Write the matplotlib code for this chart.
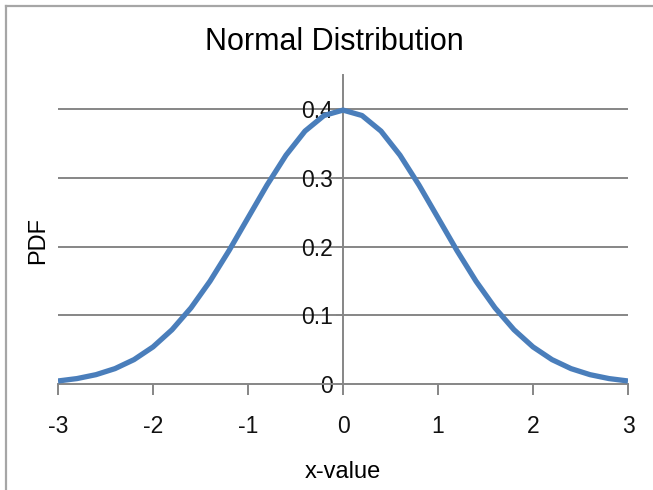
import matplotlib.pyplot as plt
from matplotlib.lines import Line2D

# values (standard normal pdf, step 0.2)
x_vals = [-3.0, -2.8, -2.6, -2.4, -2.2, -2.0, -1.8, -1.6, -1.4, -1.2, -1.0,
          -0.8, -0.6, -0.4, -0.2, 0.0, 0.2, 0.4, 0.6, 0.8, 1.0,
          1.2, 1.4, 1.6, 1.8, 2.0, 2.2, 2.4, 2.6, 2.8, 3.0]
pdf_vals = [0.0044, 0.0079, 0.0136, 0.0224, 0.0355, 0.0540, 0.0790, 0.1109, 0.1497, 0.1942, 0.2420,
            0.2897, 0.3332, 0.3683, 0.3910, 0.3989, 0.3910, 0.3683, 0.3332, 0.2897, 0.2420,
            0.1942, 0.1497, 0.1109, 0.0790, 0.0540, 0.0355, 0.0224, 0.0136, 0.0079, 0.0044]
x_ticks = [-3, -2, -1, 0, 1, 2, 3]
y_ticks = [0, 0.1, 0.2, 0.3, 0.4]
y_labels = ["0", "0.1", "0.2", "0.3", "0.4"]

plt.rcParams['font.family'] = ['Liberation Sans', 'DejaVu Sans']

grey = '#868686'
fig = plt.figure(figsize=(6.53, 4.9), dpi=100)
ax = fig.add_axes([58/653, 1-384/490, 570/653, 309/490])

# outer chart-area frame (left and top edges visible)
fig.add_artist(Line2D([6/653, 6/653], [0, 1-6/490], color='#a6a6a6', lw=1.6))
fig.add_artist(Line2D([6/653, 1], [1-6/490, 1-6/490], color='#a6a6a6', lw=1.6))

for yv in y_ticks[1:]:
    ax.axhline(yv, color=grey, lw=1.4, zorder=1)

ax.plot(x_vals, pdf_vals, color='#4a7ebb', lw=3.8, zorder=3, solid_capstyle='butt')

ax.set_xlim(-3, 3)
ax.set_ylim(0, 0.45)

ax.spines['top'].set_visible(False)
ax.spines['right'].set_visible(False)
ax.spines['left'].set_position(('data', 0))
ax.spines['left'].set_color(grey)
ax.spines['left'].set_linewidth(1.4)
ax.spines['bottom'].set_color(grey)
ax.spines['bottom'].set_linewidth(1.4)
ax.spines['left'].set_zorder(2)

ax.set_xticks(x_ticks)
ax.set_xticklabels([str(t) for t in x_ticks])
ax.set_yticks(y_ticks)
ax.set_yticklabels(y_labels)
ax.tick_params(axis='x', direction='out', length=8, width=1.4, color=grey,
               labelsize=16.5, pad=14, labelcolor='#111111')
ax.tick_params(axis='y', direction='out', length=5, width=1.4, color=grey,
               labelsize=16.5, pad=2, labelcolor='#111111')

fig.text(334/653, 1-42/490, 'Normal Distribution', ha='center', va='center', fontsize=22)
fig.text(343/653, 1-472/490, 'x-value', ha='center', va='center', fontsize=17)
fig.text(38/653, 1-240/490, 'PDF', ha='center', va='center', fontsize=17, rotation=90)

fig.savefig('out.png', dpi=100)
